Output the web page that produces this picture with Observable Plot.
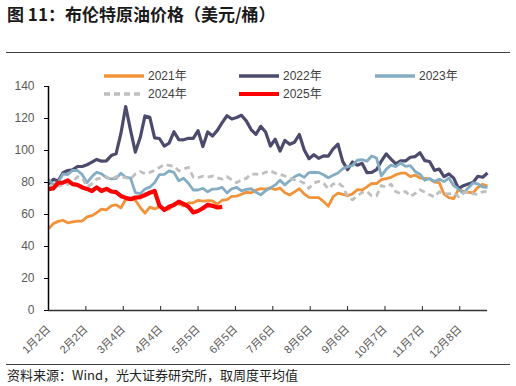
<!DOCTYPE html>
<html><head><meta charset="utf-8">
<script src="https://cdn.jsdelivr.net/npm/d3@7"></script>
<script src="https://cdn.jsdelivr.net/npm/@observablehq/plot@0.6"></script>
<style>
body{margin:0;background:#fff;}
#wrap{position:relative;width:516px;height:386px;overflow:hidden;font-family:"Liberation Sans","Noto Sans CJK SC",sans-serif;background:#fff;}
#title{position:absolute;left:7px;top:4px;font-weight:bold;font-size:17px;line-height:20px;font-family:"Noto Sans CJK SC",sans-serif;color:#1a1a1a;white-space:nowrap;}
.rule{position:absolute;left:6px;width:504px;height:0;border-top:1.5px solid #3f3f3f;}
#chart{position:absolute;left:0;top:55px;}
.li{position:absolute;font-size:12px;line-height:14px;color:#404040;display:flex;align-items:center;white-space:nowrap;}
.li svg{margin-right:4px;}
#source{position:absolute;left:7px;top:367px;font-size:13px;line-height:16px;color:#222;font-family:"Noto Sans CJK SC",sans-serif;white-space:nowrap;}
</style></head>
<body>
<div id="wrap">
  <div id="title">图 11：布伦特原油价格（美元/桶）</div>
  <div class="rule" style="top:52px"></div>
  <div id="chart"></div>
  <div id="legend"></div>
  <div class="rule" style="top:364px"></div>
  <div id="source">资料来源：Wind，光大证券研究所，取周度平均值</div>
</div>
<script>
// x tick positions (days after 1月2日) and their labels
const xTickDays = [0,31,62,93,124,155,186,217,248,279,310,341];
const xTickLabels = ["1月2日","2月2日","3月4日","4月4日","5月5日","6月5日","7月6日","8月6日","9月6日","10月7日","11月7日","12月8日"];
const yTicks = [0,20,40,60,80,100,120,140];

const seriesNames = ["2021年","2022年","2023年","2024年","2025年"];

// sampled every 4 days from 1月2日
const price2021 = [51.1,54.3,55.7,56.4,54.8,55.4,55.9,55.9, 58.5,59.3,61.1,63.3,62.9,65.4,66.1,
  64.1,69.4,69.6,68.9,64.5,60.8,64.6,63.5, 64.9,63.2,63.3,66.8,66.6,65.4,67.3,
  67.3,68.9,68.3,68.7,68.5,66.4,68.9,69.3, 71.3,71.5,72.7,73.9,73.5,75.2,76.2,
  75.8,76.6,75.6,76.5,73.6,72.2,74.1,76.1, 72.9,70.7,70.6,70.6,68.2,65.2,71.1,73.4,
  72.6,71.7,72.9,75.5,75.3,77.3,79.5, 79.3,81.8,82.4,83.2,84.9,85.8,85.9,83.7,
  84.7,82.7,82.6,82.2,80.3,79.9,72.7,70.6, 69.9,75.8,74.4,73.9,73.5,76.9,78.9,77.8];
const price2022 = [79.0,82.0,80.9,86.1,87.5,87.9,90.0,90.0, 91.1,92.7,94.4,93.3,93.5,96.8,97.9,
  110.5,127.5,112.7,99.0,107.9,121.6,120.7,107.9, 107.5,102.8,104.6,111.7,106.8,106.7,107.6,
  107.6,112.4,102.5,111.6,109.1,112.6,117.4,121.7, 119.7,120.6,122.0,118.5,113.1,110.1,115.1,
  111.6,102.8,107.0,99.6,106.3,103.9,105.2,110.0, 100.5,94.9,97.4,95.1,96.6,96.5,101.0,104.0,
  93.0,88.0,92.8,90.8,92.0,86.2,86.3, 88.0,93.4,97.9,94.6,91.6,93.5,93.5,95.8,
  96.2,98.6,93.7,93.1,87.6,88.4,83.6,85.4, 82.7,76.2,78.0,79.0,80.0,83.9,83.3,85.9];
const price2023 = [82.1,78.6,80.1,85.3,85.0,87.6,87.5,84.9, 79.9,83.7,86.4,85.4,83.0,82.2,82.5,
  85.8,83.3,82.8,73.7,73.0,75.9,77.1,79.8, 84.9,85.1,87.3,86.3,81.1,82.7,79.5,
  75.3,75.3,76.4,74.2,75.9,76.0,77.0,73.5, 76.1,77.0,74.8,75.7,76.1,73.9,72.3,
  74.9,76.6,78.5,81.4,78.5,81.1,83.6,85.0, 83.2,86.2,86.4,86.2,84.8,83.0,84.5,85.9,
  88.6,89.9,90.6,93.9,94.3,93.3,96.6, 95.3,84.1,88.2,90.9,89.9,92.2,90.1,90.5,
  86.9,85.2,81.4,82.5,80.6,82.0,80.6,82.8, 78.0,75.8,73.2,76.6,79.7,79.1,77.2,77.0];
const price2024 = [75.9,78.8,77.8,78.3,78.9,80.1,83.6,82.9, 77.3,79.2,82.2,82.9,83.6,81.6,83.7,
  83.6,83.0,82.1,85.4,86.9,85.4,86.3,87.5, 89.4,91.2,90.7,90.1,87.3,88.4,89.5,
  83.4,83.0,83.9,83.4,84.0,82.9,82.1,83.6, 81.6,79.9,81.6,82.6,85.3,85.2,85.0,
  86.4,87.4,85.8,85.0,84.1,82.6,81.7,81.1, 79.5,76.3,79.7,80.7,79.7,76.1,79.0,79.9,
  77.5,71.1,69.2,71.6,73.7,74.5,71.6, 71.7,78.1,77.2,79.0,74.2,73.1,74.4,71.4,
  73.1,75.5,73.9,72.3,71.0,74.2,73.0,72.9, 73.6,71.1,73.5,74.5,72.9,72.6,74.2,74.6];
const price2025 = [75.9,76.3,79.8,79.9,81.3,79.0,78.5,76.9, 76.0,74.7,77.0,74.7,76.0,74.4,74.0,
  71.6,70.4,69.6,70.6,70.8,72.2,73.6,74.7, 65.6,62.8,64.8,65.9,68.0,66.6,64.9,
  61.3,62.2,63.9,66.1,65.4,64.4,64.8];

const seriesValues = [price2021, price2022, price2023, price2024, price2025];
const days = d3.range(0, 365, 4);

// styles
const colors = ["#F39339","#4D4B6D","#84ADC4","#BFBFBF","#FF0000"];
const widths = [2.8, 3.2, 2.8, 2.8, 4.2];
const dashes = [null, null, null, "6,4", null];

const rows = seriesValues.flatMap((vals, s) =>
  vals.map((v, i) => ({day: days[i], value: v, series: seriesNames[s]})));

const lineMarks = seriesNames.map((name, s) =>
  Plot.line(rows.filter(r => r.series === name), {
    x: "day", y: "value", stroke: colors[s], strokeWidth: widths[s],
    strokeDasharray: dashes[s], strokeLinejoin: "round", strokeLinecap: "butt"
  }));

const chart = Plot.plot({
  width: 516, height: 306,
  marginLeft: 48, marginRight: 29, marginTop: 31, marginBottom: 51,
  x: {domain: [0, 364]},
  y: {domain: [0, 140]},
  style: {fontFamily: '"Liberation Sans","Noto Sans CJK SC",sans-serif', background: "transparent", color: "#595959"},
  marks: [
    Plot.axisY({ticks: yTicks, tickSize: 4, tickPadding: 10, fontSize: 12, label: null, stroke: "#000", fill: "#595959", tickFormat: d => String(d)}),
    Plot.axisX({ticks: xTickDays, tickSize: 0, tickPadding: 17, tickRotate: -45, fontSize: 11, label: null, fill: "#595959",
      tickFormat: d => xTickLabels[xTickDays.indexOf(d)]}),
    Plot.ruleX(xTickDays, {y1: 0, y2: 0, insetTop: -4, stroke: "#222"}),
    ...lineMarks,
    Plot.ruleX([0], {stroke: "#000", strokeWidth: 1.5}),
    Plot.ruleY([0], {stroke: "#333", strokeWidth: 1.5})
  ]
});
document.getElementById("chart").appendChild(chart);

// legend
const legendX = [104, 239, 375];
const legendY = [76, 94];
const legend = document.getElementById("legend");
seriesNames.forEach((name, s) => {
  const col = s < 3 ? s : s - 3, row = s < 3 ? 0 : 1;
  const div = document.createElement("div");
  div.className = "li";
  div.style.left = legendX[col] + "px";
  div.style.top = (legendY[row] - 7) + "px";
  div.innerHTML = `<svg width="40" height="8"><line x1="0" x2="40" y1="4" y2="4" stroke="${colors[s]}" stroke-width="${Math.min(widths[s]+0.5,4)}" ${dashes[s] ? `stroke-dasharray="${dashes[s]}"` : ""}/></svg><span>${name}</span>`;
  legend.appendChild(div);
});
</script>
</body></html>
